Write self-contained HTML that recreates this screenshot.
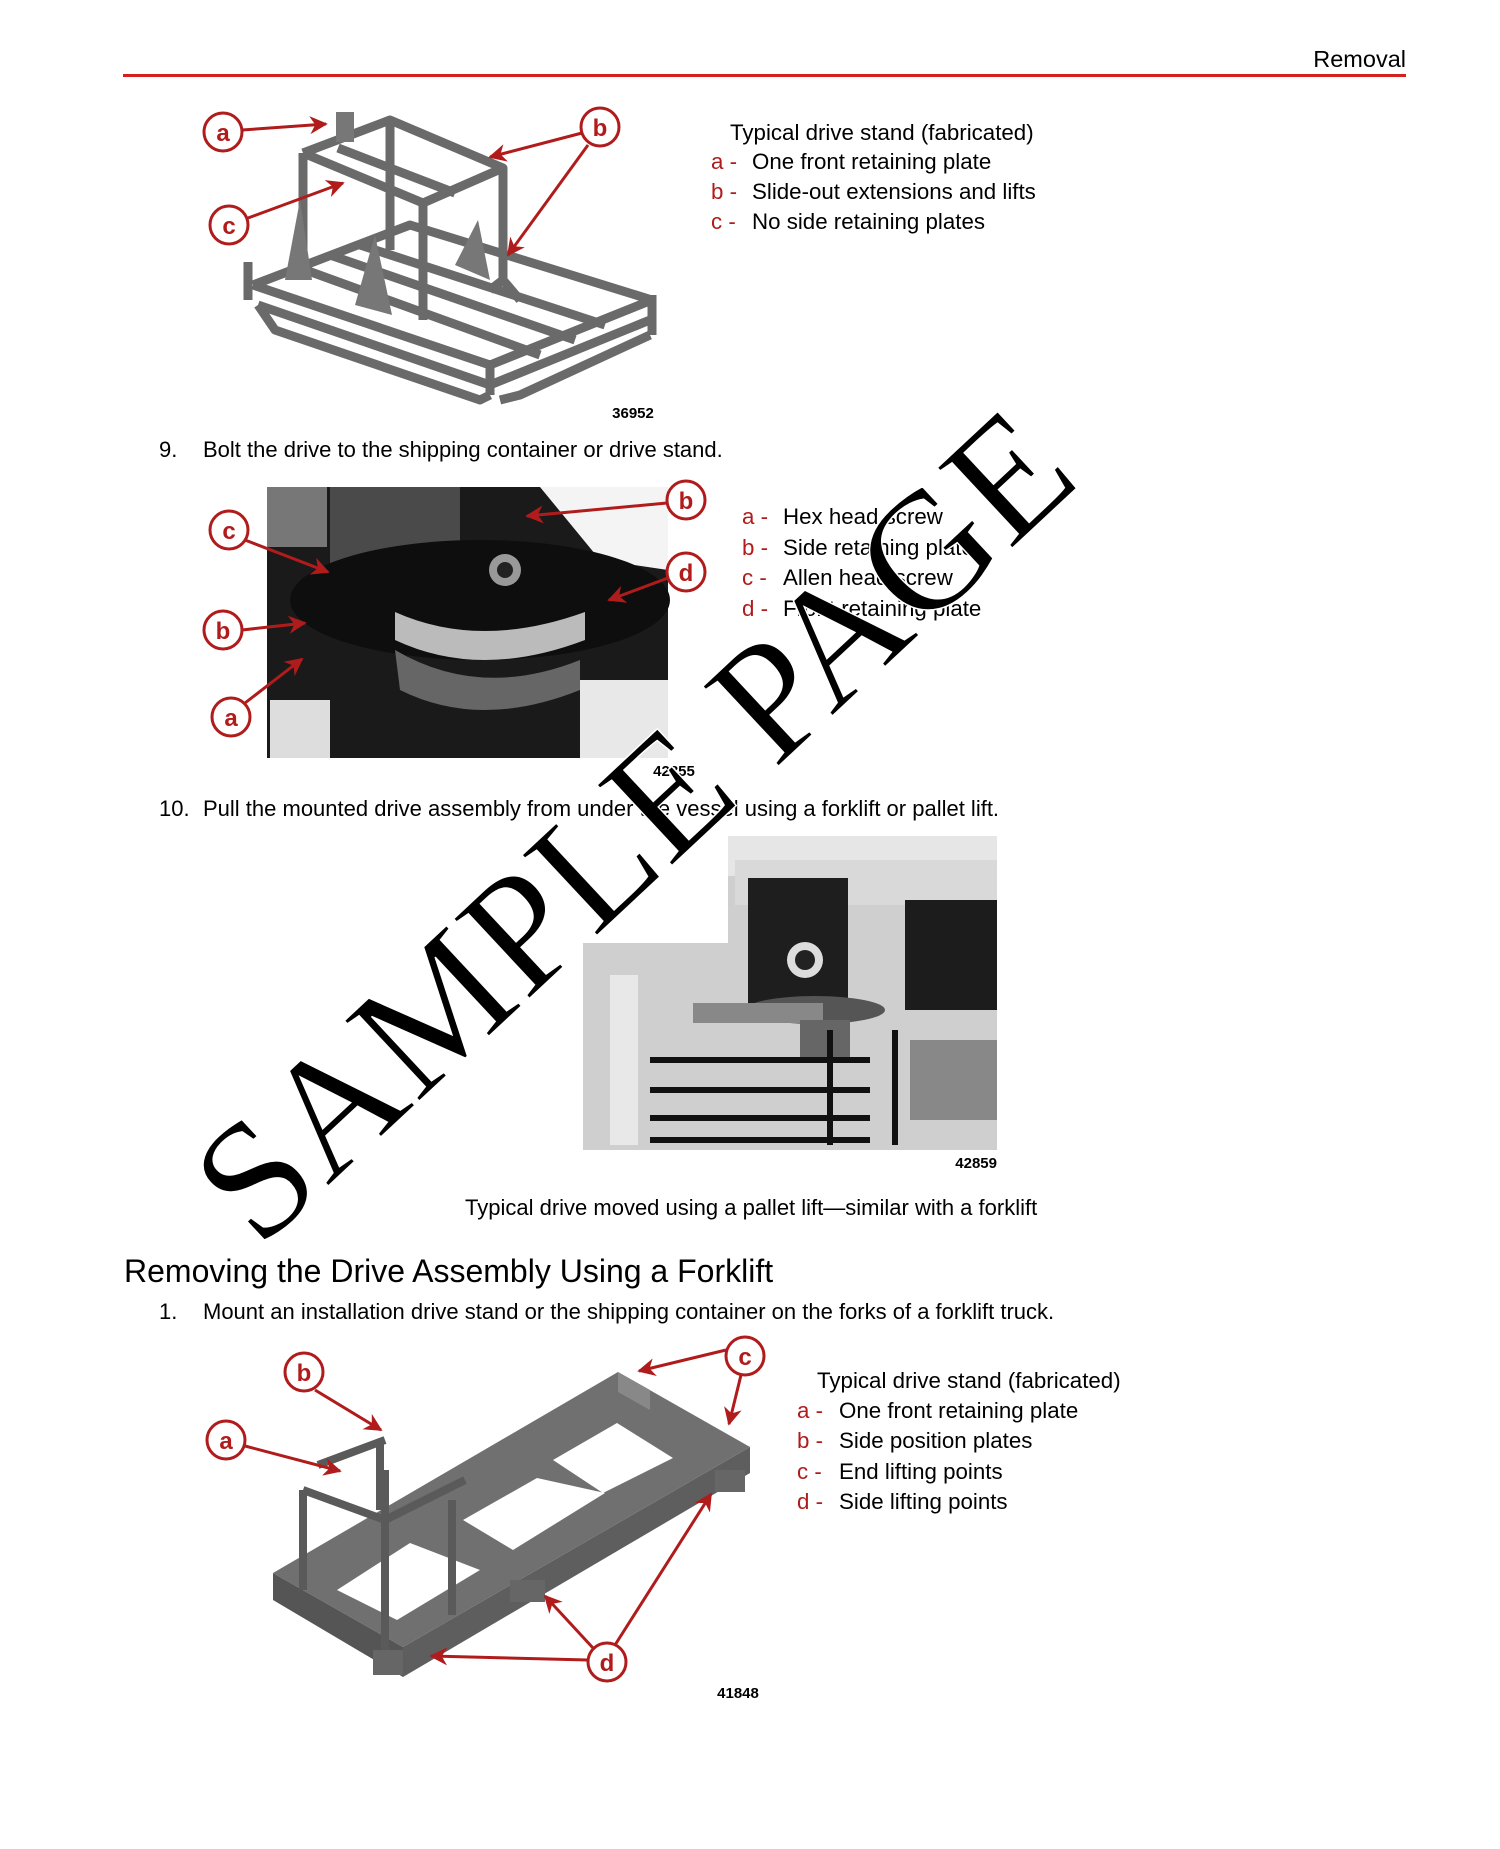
<!DOCTYPE html>
<html><head><meta charset="utf-8"><style>
html,body{margin:0;padding:0;background:#fff}
body{width:1500px;height:1849px;position:relative;overflow:hidden;font-family:"Liberation Sans",Arial,sans-serif}
</style></head><body>
<svg width="1500" height="1849" viewBox="0 0 1500 1849" xmlns="http://www.w3.org/2000/svg" style="position:absolute;left:0;top:0">
<defs>
<marker id="ah" viewBox="0 0 10 10" refX="9" refY="5" markerWidth="6" markerHeight="6" orient="auto-start-reverse" markerUnits="strokeWidth">
<path d="M0,0 L10,5 L0,10 L3,5 z" fill="#b01c1c"/></marker>
</defs>
<g font-family="Liberation Sans, Arial, sans-serif">
<text x="1406" y="67" font-size="23.5" text-anchor="end" fill="#000">Removal</text>
<rect x="123" y="74" width="1283" height="3" fill="#d62020"/>

<g stroke="#6a6a6a" stroke-width="9" fill="none" stroke-linejoin="round">
<polyline points="253,285 490,365 652,300"/>
<polyline points="253,285 410,225 652,300"/>
<polyline points="258,305 490,385 650,320"/>
<line x1="300" y1="268" x2="540" y2="355"/>
<line x1="330" y1="255" x2="575" y2="340"/>
<line x1="360" y1="245" x2="605" y2="325"/>
<polyline points="303,153 303,280"/>
<polyline points="390,120 390,250"/>
<polyline points="503,168 503,280"/>
<polyline points="423,203 423,320"/>
<polyline points="303,153 390,120 503,168 423,203 303,153"/>
<line x1="338" y1="148" x2="455" y2="193"/>
<polyline points="490,290 503,280 520,300"/>
<line x1="248" y1="262" x2="248" y2="300"/>
<line x1="652" y1="295" x2="652" y2="335"/>
<line x1="490" y1="360" x2="490" y2="395"/>
<polyline points="258,305 275,330 480,400 490,395"/>
<polyline points="500,400 520,395 650,335"/>
</g>
<g fill="#777"><polygon points="285,280 300,200 312,280"/><polygon points="355,305 375,235 392,315"/><polygon points="455,265 478,220 490,280"/><rect x="336" y="112" width="18" height="30"/></g>

<g stroke="#b01c1c" stroke-width="3" fill="none">
<line x1="242" y1="130" x2="326" y2="124" marker-end="url(#ah)"/>
<line x1="582" y1="133" x2="490" y2="157" marker-end="url(#ah)"/>
<line x1="588" y1="145" x2="508" y2="255" marker-end="url(#ah)"/>
<line x1="248" y1="218" x2="343" y2="183" marker-end="url(#ah)"/>
</g>
<g fill="#fff" stroke="#b01c1c" stroke-width="3">
<circle cx="223" cy="132" r="19"/><circle cx="600" cy="127" r="19"/><circle cx="229" cy="225" r="19"/>
</g>
<g fill="#b01c1c" font-size="24" font-weight="bold" text-anchor="middle">
<text x="223" y="141">a</text><text x="600" y="136">b</text><text x="229" y="234">c</text>
</g>
<text x="633" y="418" font-size="15" font-weight="bold" text-anchor="middle">36952</text>

<g font-size="22.3">
<text x="730" y="140">Typical drive stand (fabricated)</text>
<text x="711" y="169" fill="#b01c1c">a -</text><text x="752" y="169">One front retaining plate</text>
<text x="711" y="199" fill="#b01c1c">b -</text><text x="752" y="199">Slide-out extensions and lifts</text>
<text x="711" y="229" fill="#b01c1c">c -</text><text x="752" y="229">No side retaining plates</text>
</g>

<text x="159" y="457" font-size="22">9.</text>
<text x="203" y="457" font-size="22">Bolt the drive to the shipping container or drive stand.</text>

<rect x="267" y="487" width="401" height="271" fill="#1a1a1a"/>
<polygon points="540,487 668,487 668,570 600,560" fill="#f4f4f4"/>
<rect x="330" y="487" width="130" height="90" fill="#4a4a4a"/>
<rect x="267" y="487" width="60" height="60" fill="#777"/>
<ellipse cx="480" cy="600" rx="190" ry="60" fill="#0e0e0e"/>
<path d="M395,612 Q480,650 585,612 L585,640 Q480,680 395,640z" fill="#bbb"/>
<path d="M395,650 Q480,700 580,660 L580,690 Q480,730 400,690z" fill="#666"/>
<rect x="580" y="680" width="88" height="78" fill="#e8e8e8"/>
<rect x="270" y="700" width="60" height="58" fill="#ddd"/>
<circle cx="505" cy="570" r="16" fill="#999"/><circle cx="505" cy="570" r="8" fill="#222"/>

<g stroke="#b01c1c" stroke-width="3" fill="none">
<line x1="667" y1="503" x2="527" y2="516" marker-end="url(#ah)"/>
<line x1="245" y1="540" x2="328" y2="572" marker-end="url(#ah)"/>
<line x1="668" y1="578" x2="609" y2="600" marker-end="url(#ah)"/>
<line x1="242" y1="630" x2="305" y2="623" marker-end="url(#ah)"/>
<line x1="245" y1="703" x2="302" y2="659" marker-end="url(#ah)"/>
</g>
<g fill="#fff" stroke="#b01c1c" stroke-width="3">
<circle cx="686" cy="500" r="19"/><circle cx="229" cy="530" r="19"/><circle cx="686" cy="572" r="19"/><circle cx="223" cy="630" r="19"/><circle cx="231" cy="717" r="19"/>
</g>
<g fill="#b01c1c" font-size="24" font-weight="bold" text-anchor="middle">
<text x="686" y="509">b</text><text x="229" y="539">c</text><text x="686" y="581">d</text><text x="223" y="639">b</text><text x="231" y="726">a</text>
</g>
<text x="674" y="776" font-size="15" font-weight="bold" text-anchor="middle">42855</text>

<g font-size="22.3">
<text x="742" y="524" fill="#b01c1c">a -</text><text x="783" y="524">Hex head screw</text>
<text x="742" y="555" fill="#b01c1c">b -</text><text x="783" y="555">Side retaining plate</text>
<text x="742" y="585" fill="#b01c1c">c -</text><text x="783" y="585">Allen head screw</text>
<text x="742" y="616" fill="#b01c1c">d -</text><text x="783" y="616">Front retaining plate</text>
</g>

<text x="159" y="816" font-size="22">10.</text>
<text x="203" y="816" font-size="22">Pull the mounted drive assembly from under the vessel using a forklift or pallet lift.</text>

<polygon points="728,836 997,836 997,1150 583,1150 583,943 728,943" fill="#cfcfcf"/>
<rect x="728" y="836" width="269" height="40" fill="#e6e6e6"/>
<rect x="735" y="860" width="262" height="45" fill="#d9d9d9"/>
<rect x="905" y="900" width="92" height="110" fill="#1c1c1c"/>
<rect x="748" y="878" width="100" height="130" fill="#1e1e1e"/>
<circle cx="805" cy="960" r="18" fill="#ddd"/><circle cx="805" cy="960" r="10" fill="#222"/>
<ellipse cx="815" cy="1010" rx="70" ry="14" fill="#555"/>
<rect x="693" y="1003" width="130" height="20" fill="#888"/>
<rect x="800" y="1020" width="50" height="40" fill="#666"/>
<rect x="610" y="975" width="28" height="170" fill="#e8e8e8"/>
<g stroke="#111" stroke-width="6"><line x1="650" y1="1060" x2="870" y2="1060"/><line x1="650" y1="1090" x2="870" y2="1090"/><line x1="650" y1="1118" x2="870" y2="1118"/><line x1="650" y1="1140" x2="870" y2="1140"/><line x1="830" y1="1030" x2="830" y2="1145"/><line x1="895" y1="1030" x2="895" y2="1145"/></g>
<rect x="910" y="1040" width="87" height="80" fill="#888"/>
<text x="997" y="1168" font-size="15" font-weight="bold" text-anchor="end">42859</text>
<text x="465" y="1215" font-size="22">Typical drive moved using a pallet lift—similar with a forklift</text>

<text x="124" y="1282" font-size="32">Removing the Drive Assembly Using a Forklift</text>
<text x="159" y="1319" font-size="22">1.</text>
<text x="203" y="1319" font-size="22">Mount an installation drive stand or the shipping container on the forks of a forklift truck.</text>

<polygon points="273,1573 403,1647 403,1677 273,1600" fill="#555"/>
<polygon points="403,1647 750,1447 750,1473 403,1677" fill="#5e5e5e"/>
<polygon points="273,1573 618,1372 750,1447 403,1647" fill="#707070"/>
<polygon points="337,1590 410,1543 480,1570 397,1620" fill="#fff"/>
<polygon points="463,1520 537,1478 605,1493 513,1550" fill="#fff"/>
<polygon points="553,1460 617,1423 673,1458 603,1493" fill="#fff"/>
<polygon points="618,1372 650,1390 650,1410 618,1392" fill="#888"/>
<rect x="373" y="1650" width="30" height="25" fill="#666"/>
<rect x="510" y="1580" width="35" height="22" fill="#666"/>
<rect x="715" y="1470" width="30" height="22" fill="#666"/>
<g stroke="#5a5a5a" stroke-width="8" fill="none">
<line x1="303" y1="1490" x2="303" y2="1590"/><line x1="385" y1="1470" x2="385" y2="1650"/><line x1="452" y1="1500" x2="452" y2="1615"/><line x1="380" y1="1440" x2="380" y2="1510"/>
<line x1="303" y1="1490" x2="385" y2="1520"/><line x1="318" y1="1465" x2="385" y2="1440"/><line x1="385" y1="1520" x2="465" y2="1480"/>
</g>
<g stroke="#b01c1c" stroke-width="3" fill="none">
<line x1="315" y1="1390" x2="381" y2="1430" marker-end="url(#ah)"/>
<line x1="245" y1="1446" x2="340" y2="1471" marker-end="url(#ah)"/>
<line x1="726" y1="1350" x2="639" y2="1371" marker-end="url(#ah)"/>
<line x1="741" y1="1375" x2="729" y2="1424" marker-end="url(#ah)"/>
<line x1="588" y1="1660" x2="431" y2="1656" marker-end="url(#ah)"/>
<line x1="593" y1="1648" x2="545" y2="1596" marker-end="url(#ah)"/>
<line x1="615" y1="1645" x2="711" y2="1494" marker-end="url(#ah)"/>
</g>
<g fill="#fff" stroke="#b01c1c" stroke-width="3">
<circle cx="304" cy="1372" r="19"/><circle cx="226" cy="1440" r="19"/><circle cx="745" cy="1356" r="19"/><circle cx="607" cy="1662" r="19"/>
</g>
<g fill="#b01c1c" font-size="24" font-weight="bold" text-anchor="middle">
<text x="304" y="1381">b</text><text x="226" y="1449">a</text><text x="745" y="1365">c</text><text x="607" y="1671">d</text>
</g>
<text x="738" y="1698" font-size="15" font-weight="bold" text-anchor="middle">41848</text>
<g font-size="22.3">
<text x="817" y="1388">Typical drive stand (fabricated)</text>
<text x="797" y="1418" fill="#b01c1c">a -</text><text x="839" y="1418">One front retaining plate</text>
<text x="797" y="1448" fill="#b01c1c">b -</text><text x="839" y="1448">Side position plates</text>
<text x="797" y="1479" fill="#b01c1c">c -</text><text x="839" y="1479">End lifting points</text>
<text x="797" y="1509" fill="#b01c1c">d -</text><text x="839" y="1509">Side lifting points</text>
</g>
</g>
<text x="0" y="0" transform="translate(645,838) rotate(-43)" font-family="Liberation Serif, serif" font-size="168" text-anchor="middle" dominant-baseline="middle" fill="#000" stroke="#fff" stroke-width="1.5">SAMPLE PAGE</text>
</svg>
</body></html>
